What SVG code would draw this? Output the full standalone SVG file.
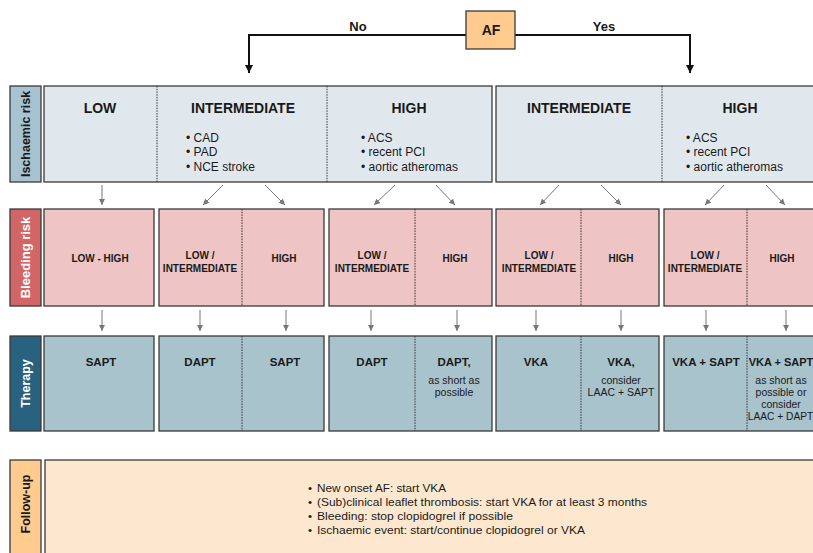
<svg xmlns="http://www.w3.org/2000/svg" width="813" height="553" viewBox="0 0 813 553">
<style>
text{font-family:"Liberation Sans",Arial,sans-serif;fill:#1a1a1a}
.box{stroke:#3a3a3a;stroke-width:1.3}
.isch{fill:#e1e8ed}
.bleed{fill:#eec4c4}
.ther{fill:#a9c3cd}
.fol{fill:#fde8cf}
.div{stroke:#333;stroke-width:1;stroke-dasharray:1.5 1.2;fill:none}
.h1{font-size:14px;font-weight:bold;text-anchor:middle}
.bul{font-size:12px}
.h2{font-size:10px;font-weight:bold;text-anchor:middle}
.h3{font-size:11.5px;font-weight:bold;text-anchor:middle}
.sub{font-size:10.5px;text-anchor:middle}
.lab{font-size:12.5px;font-weight:bold;text-anchor:middle}
.fu{font-size:11.5px}
.thin{stroke:#777;stroke-width:1;fill:none;marker-end:url(#ga)}
.main{stroke:#111;stroke-width:2;fill:none;marker-end:url(#ba)}
</style>
<defs>
<marker id="ga" viewBox="0 0 10 10" refX="10" refY="5" markerWidth="6" markerHeight="6" markerUnits="userSpaceOnUse" orient="auto">
<path d="M0,0 L10,5 L0,10 z" fill="#777"/>
</marker>
<marker id="ba" viewBox="0 0 10 10" refX="10" refY="5" markerWidth="8" markerHeight="8" markerUnits="userSpaceOnUse" orient="auto">
<path d="M0,0 L10,5 L0,10 z" fill="#111"/>
</marker>
</defs>
<rect width="813" height="553" fill="#fff"/>

<g id="connectors">
<path class="main" d="M466,35 H249 V73"/>
<path class="main" d="M515,35 H690 V73"/>
<line class="thin" x1="102" y1="185" x2="102" y2="205"/>
<line class="thin" x1="223" y1="185" x2="203" y2="205"/>
<line class="thin" x1="265" y1="185" x2="285" y2="205"/>
<line class="thin" x1="395" y1="185" x2="374" y2="205"/>
<line class="thin" x1="436" y1="185" x2="455" y2="205"/>
<line class="thin" x1="559" y1="185" x2="540" y2="205"/>
<line class="thin" x1="601" y1="185" x2="621" y2="205"/>
<line class="thin" x1="724" y1="185" x2="705" y2="205"/>
<line class="thin" x1="766" y1="185" x2="785" y2="205"/>
<line class="thin" x1="102" y1="310" x2="102" y2="331"/>
<line class="thin" x1="200" y1="310" x2="200" y2="331"/>
<line class="thin" x1="286" y1="310" x2="286" y2="331"/>
<line class="thin" x1="371" y1="310" x2="371" y2="331"/>
<line class="thin" x1="457" y1="310" x2="457" y2="331"/>
<line class="thin" x1="536" y1="310" x2="536" y2="331"/>
<line class="thin" x1="621" y1="310" x2="621" y2="331"/>
<line class="thin" x1="706" y1="310" x2="706" y2="331"/>
<line class="thin" x1="786" y1="310" x2="786" y2="331"/>
<text x="358" y="31" style="font-size:13px;font-weight:bold;text-anchor:middle">No</text>
<text x="604" y="31" style="font-size:13px;font-weight:bold;text-anchor:middle">Yes</text>
</g>

<g id="af">
<rect class="box" x="466" y="11" width="49" height="38" fill="#ffcb8e"/>
<text x="491" y="35" style="font-size:14px;font-weight:bold;text-anchor:middle">AF</text>
</g>

<g id="label-ischaemic">
<rect class="box" x="10" y="86" width="31" height="96" fill="#a7c3d1"/>
<text class="lab" transform="translate(30,134) rotate(-90)">Ischaemic risk</text>
</g>
<g id="label-bleeding">
<rect class="box" x="10" y="209" width="31" height="97" fill="#d26565"/>
<text class="lab" transform="translate(30,257.5) rotate(-90)" style="fill:#fff;font-size:13px">Bleeding risk</text>
</g>
<g id="label-therapy">
<rect class="box" x="10" y="336" width="31" height="95" fill="#29627f"/>
<text class="lab" transform="translate(30,383.5) rotate(-90)" style="fill:#fff">Therapy</text>
</g>
<g id="label-followup">
<rect class="box" x="10" y="460" width="31" height="100" fill="#ffcb8e"/>
<text class="lab" transform="translate(30,504) rotate(-90)">Follow-up</text>
</g>

<g id="isch-noaf">
<rect class="box isch" x="44" y="86" width="448" height="96"/>
<line class="div" x1="157" y1="86" x2="157" y2="182"/>
<line class="div" x1="327" y1="86" x2="327" y2="182"/>
<text class="h1" x="100" y="113">LOW</text>
<text class="h1" x="243" y="113">INTERMEDIATE</text>
<text class="bul" x="186" y="142">• CAD</text>
<text class="bul" x="186" y="156">• PAD</text>
<text class="bul" x="186" y="171">• NCE stroke</text>
<text class="h1" x="409" y="113">HIGH</text>
<text class="bul" x="361" y="142">• ACS</text>
<text class="bul" x="361" y="156">• recent PCI</text>
<text class="bul" x="361" y="171">• aortic atheromas</text>
</g>
<g id="isch-af">
<rect class="box isch" x="496" y="86" width="322" height="96"/>
<line class="div" x1="662" y1="86" x2="662" y2="182"/>
<text class="h1" x="579" y="113">INTERMEDIATE</text>
<text class="h1" x="740" y="113">HIGH</text>
<text class="bul" x="686" y="142">• ACS</text>
<text class="bul" x="686" y="156">• recent PCI</text>
<text class="bul" x="686" y="171">• aortic atheromas</text>
</g>

<g id="bleed-1">
<rect class="box bleed" x="44" y="209" width="110" height="97"/>
<text class="h2" x="100" y="262">LOW - HIGH</text>
</g>
<g id="bleed-2">
<rect class="box bleed" x="159" y="209" width="165" height="97"/>
<line class="div" x1="242" y1="209" x2="242" y2="306"/>
<text class="h2" x="200" y="259">LOW /</text>
<text class="h2" x="200" y="272">INTERMEDIATE</text>
<text class="h2" x="284" y="262">HIGH</text>
</g>
<g id="bleed-3">
<rect class="box bleed" x="329" y="209" width="163" height="97"/>
<line class="div" x1="415" y1="209" x2="415" y2="306"/>
<text class="h2" x="372" y="259">LOW /</text>
<text class="h2" x="372" y="272">INTERMEDIATE</text>
<text class="h2" x="455" y="262">HIGH</text>
</g>
<g id="bleed-4">
<rect class="box bleed" x="496" y="209" width="163" height="97"/>
<line class="div" x1="581" y1="209" x2="581" y2="306"/>
<text class="h2" x="539" y="259">LOW /</text>
<text class="h2" x="539" y="272">INTERMEDIATE</text>
<text class="h2" x="621" y="262">HIGH</text>
</g>
<g id="bleed-5">
<rect class="box bleed" x="664" y="209" width="154" height="97"/>
<line class="div" x1="747" y1="209" x2="747" y2="306"/>
<text class="h2" x="705" y="259">LOW /</text>
<text class="h2" x="705" y="272">INTERMEDIATE</text>
<text class="h2" x="782" y="262">HIGH</text>
</g>

<g id="ther-1">
<rect class="box ther" x="44" y="336" width="110" height="95"/>
<text class="h3" x="101" y="366">SAPT</text>
</g>
<g id="ther-2">
<rect class="box ther" x="159" y="336" width="165" height="95"/>
<line class="div" x1="242" y1="336" x2="242" y2="431"/>
<text class="h3" x="200" y="366">DAPT</text>
<text class="h3" x="285" y="366">SAPT</text>
</g>
<g id="ther-3">
<rect class="box ther" x="329" y="336" width="163" height="95"/>
<line class="div" x1="415" y1="336" x2="415" y2="431"/>
<text class="h3" x="372" y="366">DAPT</text>
<text class="h3" x="454" y="366">DAPT,</text>
<text class="sub" x="454" y="384">as short as</text>
<text class="sub" x="454" y="396">possible</text>
</g>
<g id="ther-4">
<rect class="box ther" x="496" y="336" width="163" height="95"/>
<line class="div" x1="581" y1="336" x2="581" y2="431"/>
<text class="h3" x="536" y="366">VKA</text>
<text class="h3" x="621" y="366">VKA,</text>
<text class="sub" x="621" y="384">consider</text>
<text class="sub" x="621" y="396">LAAC + SAPT</text>
</g>
<g id="ther-5">
<rect class="box ther" x="664" y="336" width="154" height="95"/>
<line class="div" x1="747" y1="336" x2="747" y2="431"/>
<text class="h3" x="706" y="366">VKA + SAPT</text>
<text class="h3" x="781" y="366" style="font-size:11px">VKA + SAPT</text>
<text class="sub" x="781" y="384">as short as</text>
<text class="sub" x="781" y="396">possible or</text>
<text class="sub" x="781" y="408">consider</text>
<text class="sub" x="780.5" y="420" style="font-size:10.2px">LAAC + DAPT</text>
</g>

<g id="followup">
<rect class="box fol" x="45" y="460" width="780" height="100"/>
<text class="fu" x="308" y="492">•</text>
<text class="fu" x="317" y="492" textLength="129" lengthAdjust="spacingAndGlyphs">New onset AF: start VKA</text>
<text class="fu" x="308" y="506">•</text>
<text class="fu" x="317" y="506" textLength="330" lengthAdjust="spacingAndGlyphs">(Sub)clinical leaflet thrombosis: start VKA for at least 3 months</text>
<text class="fu" x="308" y="520">•</text>
<text class="fu" x="317" y="520" textLength="196" lengthAdjust="spacingAndGlyphs">Bleeding: stop clopidogrel if possible</text>
<text class="fu" x="308" y="534">•</text>
<text class="fu" x="317" y="534" textLength="268" lengthAdjust="spacingAndGlyphs">Ischaemic event: start/continue clopidogrel or VKA</text>
</g>
</svg>
